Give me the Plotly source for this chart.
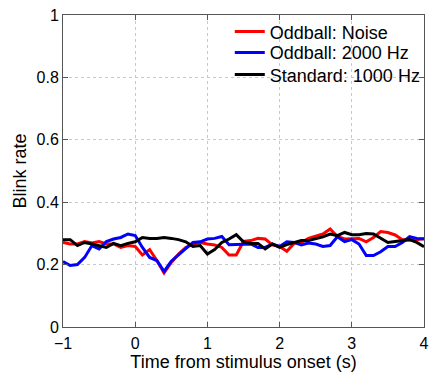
import plotly.graph_objects as go

time = [round(-1 + 0.1 * i, 1) for i in range(51)]

noise = [0.271, 0.266, 0.266, 0.274, 0.269, 0.274, 0.266, 0.266, 0.255, 0.261,
         0.258, 0.231, 0.248, 0.213, 0.173, 0.207, 0.234, 0.255, 0.266, 0.271,
         0.266, 0.263, 0.255, 0.231, 0.231, 0.274, 0.277, 0.284, 0.282, 0.263,
         0.258, 0.243, 0.268, 0.271, 0.284, 0.290, 0.298, 0.314, 0.290, 0.282,
         0.282, 0.284, 0.273, 0.287, 0.306, 0.303, 0.295, 0.280, 0.280, 0.280,
         0.284]

hz2000 = [0.210, 0.197, 0.200, 0.223, 0.261, 0.250, 0.274, 0.282, 0.287, 0.298,
          0.293, 0.255, 0.223, 0.213, 0.178, 0.211, 0.231, 0.252, 0.271, 0.273,
          0.282, 0.284, 0.290, 0.264, 0.264, 0.266, 0.266, 0.255, 0.255, 0.266,
          0.258, 0.273, 0.271, 0.263, 0.269, 0.266, 0.258, 0.261, 0.289, 0.274,
          0.280, 0.266, 0.229, 0.229, 0.241, 0.258, 0.258, 0.271, 0.290, 0.284,
          0.282]

hz1000 = [0.280, 0.280, 0.261, 0.271, 0.266, 0.261, 0.255, 0.268, 0.261, 0.268,
          0.273, 0.287, 0.284, 0.284, 0.287, 0.284, 0.280, 0.273, 0.258, 0.261,
          0.234, 0.248, 0.271, 0.282, 0.296, 0.273, 0.268, 0.268, 0.250, 0.266,
          0.255, 0.264, 0.271, 0.277, 0.277, 0.282, 0.289, 0.298, 0.293, 0.303,
          0.296, 0.296, 0.300, 0.298, 0.284, 0.271, 0.274, 0.277, 0.280, 0.271,
          0.257]

series_names = ["Oddball: Noise", "Oddball: 2000 Hz", "Standard: 1000 Hz"]
series_colors = ["#ff0000", "#0000ff", "#000000"]

x_ticks = [-1, 0, 1, 2, 3, 4]
x_ticklabels = ["\u22121", "0", "1", "2", "3", "4"]
y_ticks = [0, 0.2, 0.4, 0.6, 0.8, 1]
y_ticklabels = ["0", "0.2", "0.4", "0.6", "0.8", "1"]

legend_ids = ["legend", "legend2", "legend3"]
legend_rows = [0.946, 0.879, 0.808]

fig = go.Figure()
for name, ys, col, lid in zip(series_names, [noise, hz2000, hz1000], series_colors, legend_ids):
    fig.add_trace(go.Scatter(x=time, y=ys, mode="lines", name=name, legend=lid,
                             line=dict(color=col, width=3)))

font_family = "Liberation Sans, Arial, Helvetica, sans-serif"
axis_common = dict(showline=True, linecolor="#555555", linewidth=1, mirror="ticks",
                   ticks="inside", ticklen=5, tickcolor="#555555",
                   showgrid=True, gridcolor="#c8c8c8", griddash="dot", gridwidth=1,
                   zeroline=False, tickfont=dict(size=16, color="black"))

legend_style = dict(x=0.462, xanchor="left", yanchor="middle",
                    bgcolor="rgba(0,0,0,0)", borderwidth=0,
                    font=dict(size=18), itemwidth=30)

fig.update_layout(
    width=434, height=372,
    margin=dict(l=63, r=5, t=15, b=44),
    paper_bgcolor="white", plot_bgcolor="white",
    font=dict(family=font_family, color="black"),
    xaxis=dict(range=[-1, 4], tickvals=x_ticks, ticktext=x_ticklabels,
               ticklabelstandoff=2,
               title=dict(text="Time from stimulus onset (s)", font=dict(size=18), standoff=2),
               **axis_common),
    yaxis=dict(range=[0, 1], tickvals=y_ticks, ticktext=y_ticklabels,
               title=dict(text="Blink rate", font=dict(size=18), standoff=5),
               **axis_common),
    legend=dict(y=legend_rows[0], **legend_style),
    legend2=dict(y=legend_rows[1], **legend_style),
    legend3=dict(y=legend_rows[2], **legend_style),
    showlegend=True,
)

fig.write_html("out.html", config={"displayModeBar": False},
               post_script="document.body.style.margin='0';")
